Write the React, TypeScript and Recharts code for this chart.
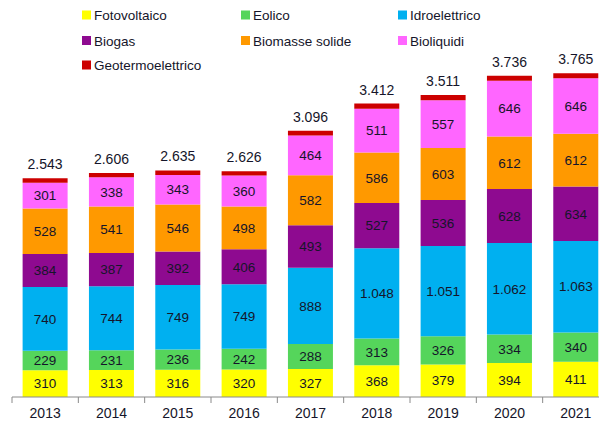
import React from "react";
import { BarChart, Bar, XAxis, YAxis, LabelList, Legend } from "recharts";

const years = ["2013", "2014", "2015", "2016", "2017", "2018", "2019", "2020", "2021"];
const fotovoltaico = [310, 313, 316, 320, 327, 368, 379, 394, 411];
const eolico = [229, 231, 236, 242, 288, 313, 326, 334, 340];
const idroelettrico = [740, 744, 749, 749, 888, 1048, 1051, 1062, 1063];
const biogas = [384, 387, 392, 406, 493, 527, 536, 628, 634];
const biomasse = [528, 541, 546, 498, 582, 586, 603, 612, 612];
const bioliquidi = [301, 338, 343, 360, 464, 511, 557, 646, 646];
const geotermo = [51, 52, 53, 51, 54, 59, 59, 60, 59];
const totals = [2543, 2606, 2635, 2626, 3096, 3412, 3511, 3736, 3765];

const series = [
  { key: "fotovoltaico", name: "Fotovoltaico", color: "#FFFF00", values: fotovoltaico, label: true },
  { key: "eolico", name: "Eolico", color: "#55D55B", values: eolico, label: true },
  { key: "idroelettrico", name: "Idroelettrico", color: "#00B0F0", values: idroelettrico, label: true },
  { key: "biogas", name: "Biogas", color: "#8E0A90", values: biogas, label: true },
  { key: "biomasse", name: "Biomasse solide", color: "#FF9900", values: biomasse, label: true },
  { key: "bioliquidi", name: "Bioliquidi", color: "#FF66FF", values: bioliquidi, label: true },
  { key: "geotermo", name: "Geotermoelettrico", color: "#CC0000", values: geotermo, label: false },
];

const legendOrder = [
  ["fotovoltaico", "eolico", "idroelettrico"],
  ["biogas", "biomasse", "bioliquidi"],
  ["geotermo"],
];

const data = years.map((y, i) => {
  const row: any = { year: y };
  series.forEach((s) => (row[s.key] = s.values[i]));
  return row;
});

const fmt = (n: number) => {
  const s = String(n);
  return s.length > 3 ? s.slice(0, s.length - 3) + "." + s.slice(-3) : s;
};

const CHART_W = 609;
const CHART_H = 423;
const M_LEFT = 12;
const BAND = (CHART_W - M_LEFT) / years.length;
const FONT = "'Liberation Sans', Arial, sans-serif";
const TEXT = "#15152a";

const YearTick = (props: any) => {
  const { x, y, payload } = props;
  return (
    <g>
      <line x1={x - BAND / 2} x2={x - BAND / 2} y1={y} y2={y + 6} stroke="#8a8a8a" strokeWidth={1} />
      <text x={x} y={y + 21} textAnchor="middle" fontSize={14} fontFamily={FONT} fill={TEXT}>
        {payload.value}
      </text>
    </g>
  );
};

const TotalLabel = (props: any) => {
  const { x, y, width, index } = props;
  return (
    <text x={x + width / 2} y={y - 9} textAnchor="middle" fontSize={14} fontFamily={FONT} fill={TEXT}>
      {fmt(totals[index])}
    </text>
  );
};

const LegendContent = () => {
  const colX = [82, 241, 398];
  const rowY = [15, 40.5, 65];
  return (
    <svg width={599} height={80} style={{ display: "block" }}>
      {legendOrder.map((row, r) =>
        row.map((k, c) => {
          const s = series.find((q) => q.key === k)!;
          return (
            <g key={k}>
              <rect x={colX[c]} y={rowY[r] - 4.5} width={9} height={9} fill={s.color} />
              <text x={colX[c] + 12} y={rowY[r] + 5} fontSize={13.5} fontFamily={FONT} fill={TEXT}>
                {s.name}
              </text>
            </g>
          );
        })
      )}
    </svg>
  );
};

export default function App() {
  return (
    <div style={{ position: "fixed", left: 0, top: 0, width: 599, height: 423, overflow: "hidden", background: "#fff" }}>
      <BarChart
        width={CHART_W}
        height={CHART_H}
        data={data}
        margin={{ top: 53, right: 0, bottom: 0, left: M_LEFT }}
        barCategoryGap="16%"
      >
        <XAxis
          dataKey="year"
          height={26}
          tickLine={false}
          tickSize={0}
          tickMargin={0}
          axisLine={{ stroke: "#8a8a8a" }}
          tick={<YearTick />}
          interval={0}
        />
        <YAxis hide domain={[0, 4000]} />
        <Legend
          verticalAlign="middle"
          content={<LegendContent />}
          wrapperStyle={{ position: "absolute", top: 0, left: 0, width: 599, height: 80 }}
        />
        {series.map((s) => (
          <Bar key={s.key} dataKey={s.key} name={s.name} stackId="a" fill={s.color} isAnimationActive={false}>
            {s.label ? (
              <LabelList
                dataKey={s.key}
                position="center"
                formatter={(v: any) => fmt(Number(v))}
                fontSize={13.5}
                fontFamily={FONT}
                fill={TEXT}
              />
            ) : (
              <LabelList dataKey={s.key} content={<TotalLabel />} />
            )}
          </Bar>
        ))}
      </BarChart>
    </div>
  );
}
